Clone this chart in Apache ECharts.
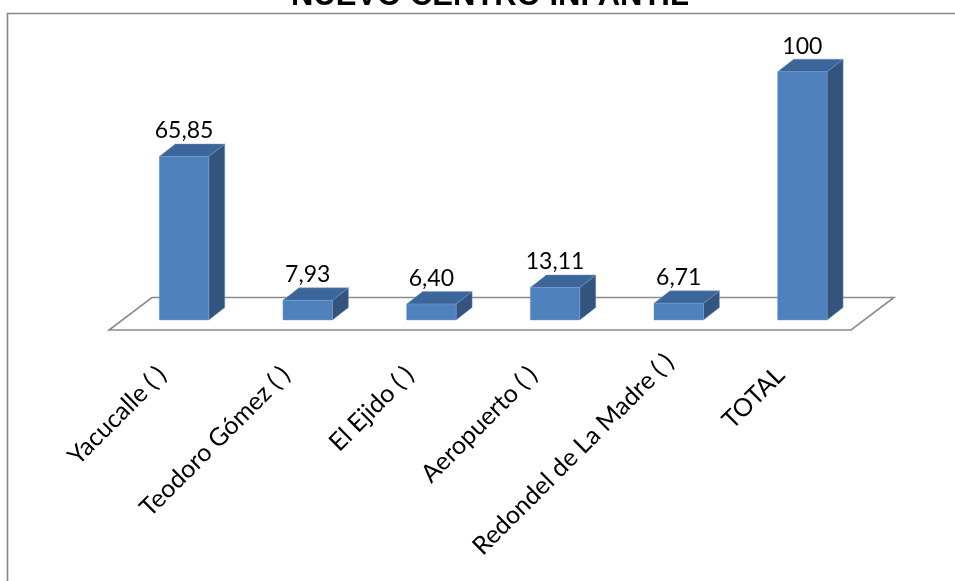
<!DOCTYPE html>
<html>
<head>
<meta charset="utf-8">
<title>Nuevo Centro Infantil</title>
<script src="https://cdn.jsdelivr.net/npm/echarts@6/dist/echarts.min.js"></script>
<style>
  html, body { margin: 0; padding: 0; background: #ffffff; }
  #chart { width: 955px; height: 581px; }
</style>
</head>
<body>
<div id="chart"></div>
<script>
// Data
const titleText = 'NUEVO CENTRO INFANTIL';
const categories = ['Yacucalle ( )', 'Teodoro Gómez ( )', 'El Ejido ( )', 'Aeropuerto ( )', 'Redondel de La Madre ( )', 'TOTAL'];
const values = [65.85, 7.93, 6.40, 13.11, 6.71, 100];

// 3D look: depth offsets of the prism backs and of the floor edges
const BAR_DEPTH = { dx: 16, dy: -12.5 };
const FLOOR_FRONT = { dx: -13.2, dy: 10 };
const FLOOR_BACK = { dx: 29.8, dy: -22.5 };
const BAR_RATIO = 0.40;

// Category labels run along the diagonal; the longest one sits a bit further out
const LABEL_PAD = 31;
const LONG_LABEL_PAD = 13;

const COLORS = {
  front: '#4f81bd',
  side: '#33547c',
  top: '#3c6699',
  edge: 'rgba(120,155,205,0.55)',
  floor: '#8c8c8c',
  frame: '#888888'
};

function formatValue(v) {
  return Number.isInteger(v) ? String(v) : v.toFixed(2).replace('.', ',');
}

function renderFloor(params, api) {
  const band = api.size([1, 0])[0];
  const first = api.coord([0, 0]);
  const last = api.coord([categories.length - 1, 0]);
  const left = first[0] - band / 2;
  const right = last[0] + band / 2;
  const y = first[1];
  return {
    type: 'polygon',
    shape: {
      points: [
        [left + FLOOR_FRONT.dx, y + FLOOR_FRONT.dy],
        [right + FLOOR_FRONT.dx, y + FLOOR_FRONT.dy],
        [right + FLOOR_BACK.dx, y + FLOOR_BACK.dy],
        [left + FLOOR_BACK.dx, y + FLOOR_BACK.dy]
      ]
    },
    style: { fill: 'none', stroke: COLORS.floor, lineWidth: 1.6 }
  };
}

function renderBar(params, api) {
  const idx = api.value(0);
  const val = api.value(1);
  const base = api.coord([idx, 0]);
  const top = api.coord([idx, val]);
  const w = api.size([1, 0])[0] * BAR_RATIO;
  const x0 = base[0] - w / 2;
  const x1 = base[0] + w / 2;
  const yb = base[1];
  const yt = top[1];
  const dx = BAR_DEPTH.dx, dy = BAR_DEPTH.dy;
  const edge = { stroke: COLORS.edge, lineWidth: 0.8 };
  return {
    type: 'group',
    children: [
      {
        type: 'polygon',
        shape: { points: [[x1, yb], [x1 + dx, yb + dy], [x1 + dx, yt + dy], [x1, yt]] },
        style: Object.assign({ fill: COLORS.side }, edge)
      },
      {
        type: 'polygon',
        shape: { points: [[x0, yt], [x1, yt], [x1 + dx, yt + dy], [x0 + dx, yt + dy]] },
        style: Object.assign({ fill: COLORS.top }, edge)
      },
      {
        type: 'polygon',
        shape: { points: [[x0, yb], [x1, yb], [x1, yt], [x0, yt]] },
        style: Object.assign({ fill: COLORS.front }, edge)
      },
      {
        type: 'text',
        style: {
          text: formatValue(val),
          x: base[0],
          y: yt + dy - 1.5,
          align: 'center',
          verticalAlign: 'bottom',
          fill: '#000000',
          font: '23px Lato'
        }
      }
    ]
  };
}

const longest = categories.reduce((a, b) => (b.length > a.length ? b : a));
const axisData = categories.map(c =>
  c === longest ? { value: c, textStyle: { padding: [0, LONG_LABEL_PAD, 0, 0] } } : c
);

const chart = echarts.init(document.getElementById('chart'), null, { renderer: 'canvas' });

chart.setOption({
  animation: false,
  backgroundColor: '#ffffff',
  graphic: [
    {
      type: 'rect',
      shape: { x: 7.5, y: 13.5, width: 1200, height: 1200 },
      style: { fill: 'none', stroke: COLORS.frame, lineWidth: 1.6 },
      z: 0
    },
    {
      type: 'text',
      x: 490,
      y: -4,
      style: {
        text: titleText,
        align: 'center',
        verticalAlign: 'middle',
        fill: '#000000',
        font: 'bold 31px "Liberation Sans", Arial, sans-serif'
      },
      z: 10
    }
  ],
  grid: { left: 122.2, right: 90.8, top: 71.7, bottom: 261 },
  xAxis: {
    type: 'category',
    data: axisData,
    axisLine: { show: false },
    axisTick: { show: false },
    splitLine: { show: false },
    axisLabel: {
      interval: 0,
      rotate: 45,
      margin: 29,
      padding: [0, LABEL_PAD, 0, 0],
      color: '#000000',
      fontFamily: 'Lato',
      fontSize: 25
    }
  },
  yAxis: {
    type: 'value',
    min: 0,
    max: 100,
    show: false
  },
  series: [
    {
      type: 'custom',
      name: 'floor',
      renderItem: renderFloor,
      data: [[0, 0]],
      z: 1,
      silent: true
    },
    {
      type: 'custom',
      name: 'valores',
      renderItem: renderBar,
      encode: { x: 0, y: 1 },
      data: values.map((v, i) => [i, v]),
      z: 2
    }
  ]
});
</script>
</body>
</html>
